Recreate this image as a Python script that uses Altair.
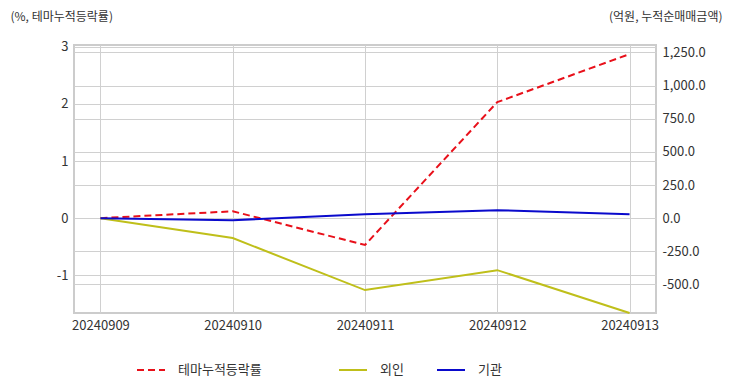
import altair as alt
import pandas as pd

dates = ["20240909", "20240910", "20240911", "20240912", "20240913"]
theme_rate = [0.0, 0.12, -0.47, 2.03, 2.87]
foreign = [0.0, -150.0, -542.0, -392.0, -715.0]
institution = [0.0, -15.0, 30.0, 60.0, 30.0]

left_title = "(%, 테마누적등락률)"
right_title = "(억원, 누적순매매금액)"
left_ticks = [-1, 0, 1, 2, 3]
right_ticks = [-500, -250, 0, 250, 500, 750, 1000, 1250]

FONT = "Noto Sans CJK KR"
GRID = "#d0d0d0"
LABEL = "#333333"
HYPHEN = "replace(datum.label, '\u2212', '-')"

df_left = pd.DataFrame({"date": dates, "value": theme_rate, "series": "테마누적등락률"})
df_right = pd.DataFrame({
    "date": dates * 2,
    "value": foreign + institution,
    "series": ["외인"] * len(dates) + ["기관"] * len(dates),
})

x_enc = alt.X(
    "date:N",
    sort=dates,
    scale=alt.Scale(type="point", padding=0.2),
    axis=alt.Axis(title=None, labelAngle=0, grid=True, gridColor=GRID, ticks=False,
                  domain=False, labelPadding=6, labelFontSize=13, labelColor=LABEL),
)

left = alt.Chart(df_left).mark_line(strokeWidth=2, strokeDash=[7, 4]).encode(
    x=x_enc,
    y=alt.Y("value:Q",
            scale=alt.Scale(domain=[-1.66, 3.03], nice=False, zero=False),
            axis=alt.Axis(values=left_ticks, format="d", labelExpr=HYPHEN,
                          title=left_title, titleAngle=0,
                          titleX=-64, titleY=-29, titleAlign="left", titleBaseline="middle",
                          titleFontSize=12, titleFontWeight="normal", titleColor=LABEL,
                          grid=True, gridColor=GRID, ticks=False, domain=False,
                          labelPadding=6, labelFontSize=13, labelColor=LABEL, orient="left")),
    color=alt.Color("series:N",
                    scale=alt.Scale(domain=["테마누적등락률"], range=["#e8101a"]),
                    legend=alt.Legend(title=None, orient="none", legendX=62, legendY=310,
                                      symbolType="stroke", symbolSize=784, symbolStrokeWidth=2,
                                      symbolDash=[7, 4], labelFontSize=13, labelColor=LABEL,
                                      labelOffset=12)),
)

right = alt.Chart(df_right).mark_line(strokeWidth=2).encode(
    x=x_enc,
    y=alt.Y("value:Q",
            scale=alt.Scale(domain=[-715, 1306], nice=False, zero=False),
            axis=alt.Axis(values=right_ticks, format=",.1f", labelExpr=HYPHEN,
                          title=right_title, titleAngle=0,
                          titleX=66, titleY=-29, titleAlign="right", titleBaseline="middle",
                          titleFontSize=12, titleFontWeight="normal", titleColor=LABEL,
                          grid=True, gridColor=GRID, ticks=False, domain=False,
                          labelPadding=6, labelFontSize=13, labelColor=LABEL, orient="right")),
    color=alt.Color("series:N",
                    sort=["외인", "기관"],
                    scale=alt.Scale(domain=["외인", "기관"], range=["#bfbf1a", "#0a0acc"]),
                    legend=alt.Legend(title=None, orient="none", legendX=264, legendY=310,
                                      direction="horizontal", symbolType="stroke", symbolSize=784,
                                      symbolStrokeWidth=2, labelFontSize=13, labelColor=LABEL,
                                      labelOffset=12, columnPadding=29)),
)

chart = alt.layer(left, right).resolve_scale(
    y="independent", color="independent"
).properties(
    width=582, height=268,
    padding={"left": 66, "top": 37, "right": 68, "bottom": 71},
    autosize=alt.AutoSizeParams(type="none"),
).configure(
    font=FONT,
).configure_view(
    stroke="#cccccc", strokeWidth=2,
)

chart.save("out.html", embed_options={"renderer": "svg", "actions": False})
